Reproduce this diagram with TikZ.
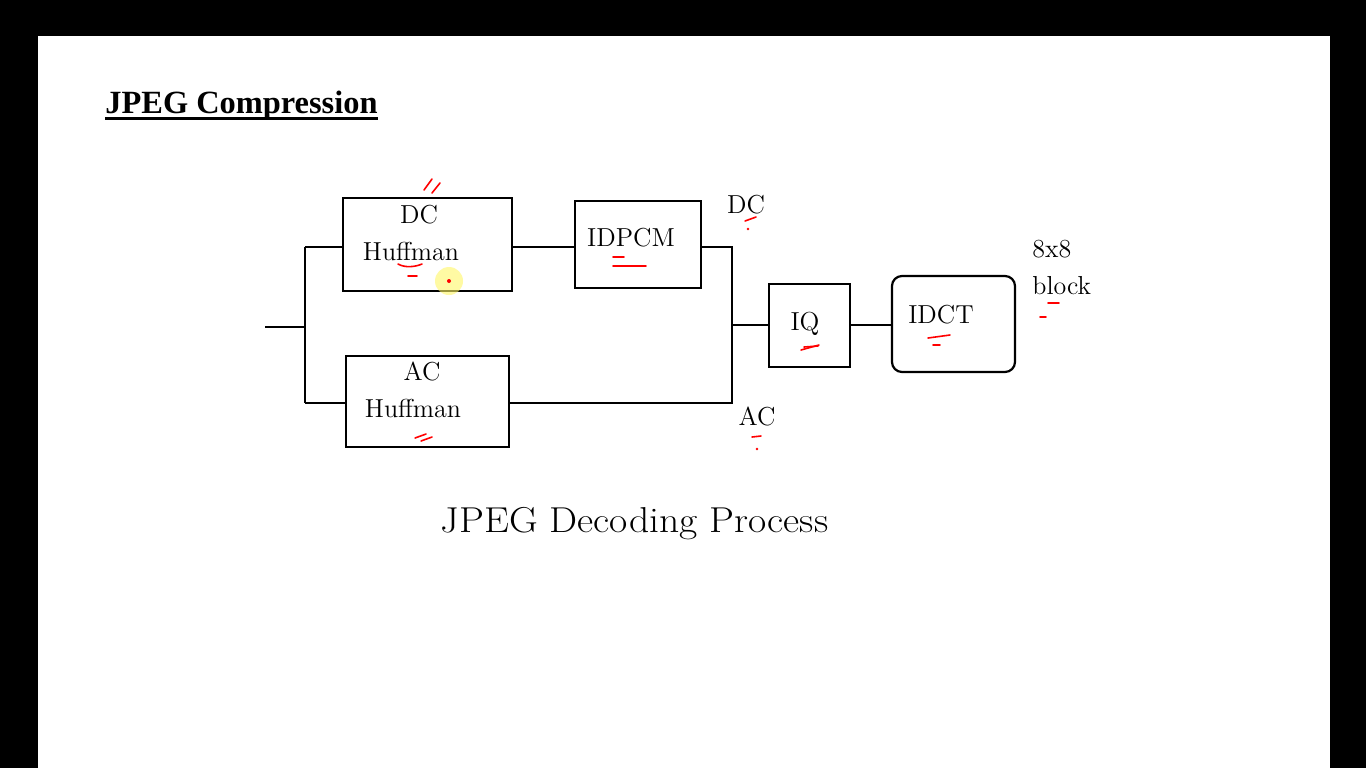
\documentclass[tikz,border=0pt]{standalone}
\usepackage{fontspec}
\newfontfamily\titlefont{Liberation Serif}
\newfontfamily\capfont{Latin Modern Roman}[FakeStretch=1.1]
\begin{document}
\begin{tikzpicture}[x=0.5pt,y=-0.5pt,
  box/.style={draw=black,line width=1.1pt,inner sep=0pt},
  wire/.style={draw=black,line width=1.1pt},
  txt/.style={font=\fontsize{13}{18.5}\selectfont,inner sep=0pt,align=center},
  ink/.style={draw=red,line width=0.8pt,line cap=round}]
\useasboundingbox (0,0) rectangle (1366,768);
\fill[black] (0,0) rectangle (1366,768);
\fill[white] (38,36) rectangle (1330,768);
% title
\node[anchor=base west,inner sep=0pt,font=\titlefont\bfseries\fontsize{16.2}{19}\selectfont] (title) at (105,113) {JPEG Compression};
\draw[line width=1.5pt] (title.south west |- 0,118.5) -- (title.south east |- 0,118.5);
% boxes
\node[box,minimum width=84.5pt,minimum height=46.5pt] (dch) at (427.5,244.5) {};
\node[txt] (dchl) at (411,233) {\hspace*{8pt}DC\\Huffman};
\node[box,minimum width=63pt,minimum height=43.5pt] (idpcm) at (638,244.5) {};
\node[txt] (idpcml) at (631,238) {IDPCM};
\node[box,minimum width=81.5pt,minimum height=45.5pt] (ach) at (427.5,401.5) {};
\node[txt] (achl) at (413,390) {\hspace*{9pt}AC\\Huffman};
\node[box,minimum width=40.5pt,minimum height=41.5pt] (iq) at (809.5,325.5) {};
\node[txt] (iql) at (805,324) {IQ};
\node[box,rounded corners=5pt,minimum width=61.5pt,minimum height=48pt] (idct) at (953.5,324) {};
\node[txt] (idctl) at (941,315) {IDCT};
% labels
\node[txt] (dcl) at (746,205) {DC};
\node[txt] (acl) at (757,416) {AC};
\node[txt,anchor=west,align=left] (blk) at (1032,267) {8x8\\block};
% caption
\node[inner sep=0pt,anchor=base,font=\capfont\fontsize{18}{20}\selectfont] (cap) at (634.5,532) {JPEG Decoding Process};
% wires
\coordinate (in) at (265,327);
\coordinate (split) at (305,327);
\coordinate (join) at (732,325);
\draw[wire] (in) -- (split);
\draw[wire] (305,247) -- (305,403);
\draw[wire] (305,247) -- (dch.west |- 0,247);
\draw[wire] (305,403) -- (ach.west |- 0,403);
\draw[wire] (dch.east |- 0,247) -- (idpcm.west |- 0,247);
\draw[wire] (idpcm.east |- 0,247) -- (732,247) -- (732,403) -- (ach.east |- 0,403);
\draw[wire] (join) -- (iq.west |- join);
\draw[wire] (iq.east |- join) -- (idct.west |- join);
% highlight
\fill[yellow!60!white,opacity=0.6] (449,281) circle (7pt);
\fill[red] (449,281) circle (1pt);
% red ink marks
\draw[ink] (424,190) -- (432,179);
\draw[ink] (432,193) -- (440,183);
\draw[ink] (398,264) .. controls (405,268) and (415,267) .. (422,264);
\draw[ink] (408,276) -- (417,276);
\draw[ink] (613,257) -- (624,257);
\draw[ink] (613,266) -- (646,266);
\draw[ink] (745,221) -- (756,217);
\fill[red] (748,229) circle (0.7pt);
\draw[ink] (415,438) -- (426,434);
\draw[ink] (421,441) -- (432,437);
\draw[ink] (801,350) -- (819,345);
\draw[ink] (804,347) -- (818,346);
\draw[ink] (928,338) -- (950,335);
\draw[ink] (933,345) -- (940,345);
\draw[ink] (1048,303) -- (1059,303);
\draw[ink] (1040,317) -- (1046,317);
\draw[ink] (752,437) -- (761,436);
\fill[red] (757,449) circle (0.7pt);
\end{tikzpicture}
\end{document}
